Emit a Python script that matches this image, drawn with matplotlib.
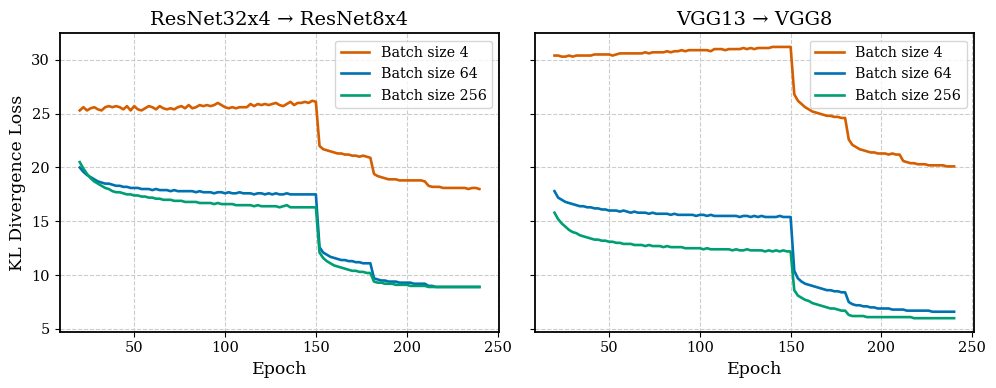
import matplotlib.pyplot as plt

plt.rcParams['font.family'] = 'DejaVu Serif'

# epochs are logged every 2 epochs, 20 .. 240
epochs = list(range(20, 241, 2))

# ResNet32x4 -> ResNet8x4
res_bs4 = [25.3, 25.6, 25.3, 25.5, 25.6, 25.4, 25.3, 25.6, 25.7, 25.6,
           25.7, 25.6, 25.4, 25.7, 25.3, 25.7, 25.4, 25.3, 25.5, 25.7,
           25.6, 25.4, 25.7, 25.5, 25.4, 25.5, 25.4, 25.6, 25.7, 25.5,
           25.8, 25.5, 25.6, 25.8, 25.7, 25.8, 25.7, 25.8, 26.0, 25.8,
           25.6, 25.5, 25.6, 25.5, 25.6, 25.6, 25.6, 25.9, 25.7, 25.9,
           25.8, 25.9, 25.8, 25.9, 26.0, 25.8, 25.7, 25.9, 26.1, 25.8,
           26.0, 26.0, 26.1, 26.0, 26.2, 26.1,
           22.0, 21.7, 21.6, 21.5, 21.4, 21.3, 21.3, 21.2, 21.2, 21.1,
           21.1, 21.0, 21.1, 21.0, 20.9,
           19.4, 19.2, 19.1, 19.0, 18.9, 18.9, 18.9, 18.8, 18.8, 18.8,
           18.8, 18.8, 18.8, 18.8, 18.7,
           18.3, 18.2, 18.2, 18.2, 18.1, 18.1, 18.1, 18.1, 18.1, 18.1,
           18.1, 18.0, 18.1, 18.1, 18.0]
res_bs64 = [20.0, 19.6, 19.3, 19.1, 18.9, 18.7, 18.6, 18.5, 18.5, 18.4,
            18.3, 18.3, 18.2, 18.2, 18.1, 18.1, 18.1, 18.0, 18.0, 18.0,
            17.9, 18.0, 17.9, 17.9, 17.9, 17.8, 17.9, 17.8, 17.8, 17.8,
            17.8, 17.8, 17.7, 17.8, 17.7, 17.7, 17.7, 17.6, 17.7, 17.7,
            17.6, 17.7, 17.6, 17.6, 17.7, 17.6, 17.6, 17.6, 17.5, 17.6,
            17.6, 17.5, 17.6, 17.5, 17.6, 17.5, 17.5, 17.6, 17.5, 17.5,
            17.5, 17.5, 17.5, 17.5, 17.5, 17.5,
            12.6, 12.1, 11.9, 11.7, 11.6, 11.5, 11.4, 11.4, 11.3, 11.3,
            11.2, 11.2, 11.1, 11.1, 11.1,
            9.7, 9.6, 9.5, 9.5, 9.4, 9.4, 9.4, 9.3, 9.3, 9.3,
            9.3, 9.2, 9.2, 9.2, 9.2,
            9.0, 9.0, 8.9, 8.9, 8.9, 8.9, 8.9, 8.9, 8.9, 8.9,
            8.9, 8.9, 8.9, 8.9, 8.9]
res_bs256 = [20.5, 19.9, 19.4, 19.0, 18.7, 18.5, 18.3, 18.1, 18.0, 17.8,
             17.7, 17.7, 17.6, 17.5, 17.5, 17.4, 17.4, 17.3, 17.3, 17.2,
             17.2, 17.1, 17.1, 17.0, 17.0, 17.0, 16.9, 16.9, 16.9, 16.8,
             16.8, 16.8, 16.8, 16.7, 16.7, 16.7, 16.7, 16.6, 16.7, 16.6,
             16.6, 16.6, 16.6, 16.5, 16.5, 16.5, 16.5, 16.5, 16.4, 16.5,
             16.4, 16.4, 16.4, 16.4, 16.4, 16.3, 16.4, 16.5, 16.3, 16.3,
             16.3, 16.3, 16.3, 16.3, 16.3, 16.3,
             12.1, 11.6, 11.3, 11.1, 10.9, 10.8, 10.7, 10.6, 10.5, 10.4,
             10.4, 10.3, 10.3, 10.2, 10.2,
             9.4, 9.3, 9.3, 9.2, 9.2, 9.2, 9.1, 9.1, 9.1, 9.1,
             9.0, 9.0, 9.0, 9.0, 9.0,
             8.9, 8.9, 8.9, 8.9, 8.9, 8.9, 8.9, 8.9, 8.9, 8.9,
             8.9, 8.9, 8.9, 8.9, 8.9]

# VGG13 -> VGG8
vgg_bs4 = [30.4, 30.4, 30.3, 30.3, 30.4, 30.3, 30.4, 30.4, 30.4, 30.4,
           30.4, 30.5, 30.5, 30.5, 30.5, 30.5, 30.4, 30.5, 30.6, 30.6,
           30.6, 30.6, 30.6, 30.6, 30.6, 30.7, 30.6, 30.7, 30.7, 30.7,
           30.7, 30.8, 30.7, 30.8, 30.8, 30.9, 30.8, 30.9, 30.9, 30.9,
           30.9, 30.9, 30.9, 30.8, 31.0, 31.0, 31.0, 30.9, 31.0, 31.0,
           31.0, 31.0, 31.1, 31.0, 31.1, 31.0, 31.1, 31.1, 31.1, 31.1,
           31.2, 31.2, 31.2, 31.2, 31.2, 31.2,
           26.8, 26.2, 25.9, 25.6, 25.4, 25.2, 25.1, 25.0, 24.9, 24.8,
           24.8, 24.7, 24.7, 24.6, 24.6,
           22.6, 22.1, 21.9, 21.7, 21.6, 21.5, 21.4, 21.4, 21.3, 21.3,
           21.3, 21.2, 21.3, 21.2, 21.2,
           20.6, 20.5, 20.4, 20.4, 20.3, 20.3, 20.3, 20.2, 20.2, 20.2,
           20.2, 20.2, 20.1, 20.1, 20.1]
vgg_bs64 = [17.8, 17.2, 17.0, 16.8, 16.7, 16.6, 16.5, 16.4, 16.4, 16.3,
            16.3, 16.2, 16.2, 16.1, 16.1, 16.0, 16.0, 16.0, 15.9, 16.0,
            15.9, 15.8, 15.9, 15.8, 15.8, 15.8, 15.7, 15.8, 15.7, 15.7,
            15.7, 15.7, 15.6, 15.7, 15.6, 15.6, 15.6, 15.6, 15.6, 15.5,
            15.6, 15.6, 15.5, 15.6, 15.5, 15.5, 15.5, 15.5, 15.5, 15.5,
            15.5, 15.4, 15.5, 15.5, 15.4, 15.5, 15.4, 15.5, 15.4, 15.4,
            15.4, 15.4, 15.5, 15.4, 15.4, 15.4,
            10.4, 9.7, 9.4, 9.2, 9.1, 9.0, 8.9, 8.8, 8.7, 8.6,
            8.6, 8.5, 8.5, 8.4, 8.4,
            7.5, 7.3, 7.2, 7.2, 7.1, 7.1, 7.0, 7.0, 6.9, 6.9,
            6.9, 6.9, 6.8, 6.8, 6.8,
            6.8, 6.7, 6.7, 6.7, 6.7, 6.7, 6.7, 6.7, 6.6, 6.6,
            6.6, 6.6, 6.6, 6.6, 6.6]
vgg_bs256 = [15.8, 15.2, 14.8, 14.5, 14.2, 14.0, 13.9, 13.7, 13.6, 13.5,
             13.4, 13.3, 13.3, 13.2, 13.2, 13.1, 13.1, 13.0, 13.0, 12.9,
             12.9, 12.9, 12.8, 12.8, 12.8, 12.7, 12.8, 12.7, 12.7, 12.7,
             12.6, 12.7, 12.6, 12.6, 12.6, 12.6, 12.5, 12.5, 12.5, 12.5,
             12.5, 12.4, 12.5, 12.4, 12.4, 12.4, 12.4, 12.4, 12.4, 12.3,
             12.4, 12.3, 12.3, 12.4, 12.3, 12.3, 12.3, 12.3, 12.2, 12.3,
             12.2, 12.3, 12.2, 12.3, 12.2, 12.2,
             8.6, 8.1, 7.9, 7.7, 7.6, 7.4, 7.3, 7.2, 7.1, 7.0,
             6.9, 6.9, 6.8, 6.7, 6.7,
             6.3, 6.2, 6.2, 6.2, 6.2, 6.1, 6.1, 6.1, 6.1, 6.1,
             6.1, 6.1, 6.1, 6.1, 6.1,
             6.1, 6.1, 6.1, 6.0, 6.0, 6.0, 6.0, 6.0, 6.0, 6.0,
             6.0, 6.0, 6.0, 6.0, 6.0]

titles = ['ResNet32x4 → ResNet8x4', 'VGG13 → VGG8']
labels = ['Batch size 4', 'Batch size 64', 'Batch size 256']
colors = ['#D55E00', '#0072B2', '#009E73']
panels = [[res_bs4, res_bs64, res_bs256], [vgg_bs4, vgg_bs64, vgg_bs256]]

fig, axes = plt.subplots(1, 2, figsize=(9.96, 3.88), dpi=100, sharey=True)
fig.subplots_adjust(left=0.06, right=0.978, top=0.914, bottom=0.145, wspace=0.08)

for ax, title, series in zip(axes, titles, panels):
    for vals, lab, c in zip(series, labels, colors):
        ax.plot(epochs, vals, color=c, lw=1.9, label=lab)
    ax.set_title(title, fontsize=14)
    ax.set_xlabel('Epoch', fontsize=12.5)
    ax.grid(True, linestyle='--', color='#cccccc', lw=0.8)
    ax.tick_params(labelsize=10.5)
    for s in ax.spines.values():
        s.set_linewidth(1.3)
    ax.legend(loc='upper right', fontsize=10.3)

axes[0].set_ylabel('KL Divergence Loss', fontsize=12.5)

plt.savefig('out.png')
